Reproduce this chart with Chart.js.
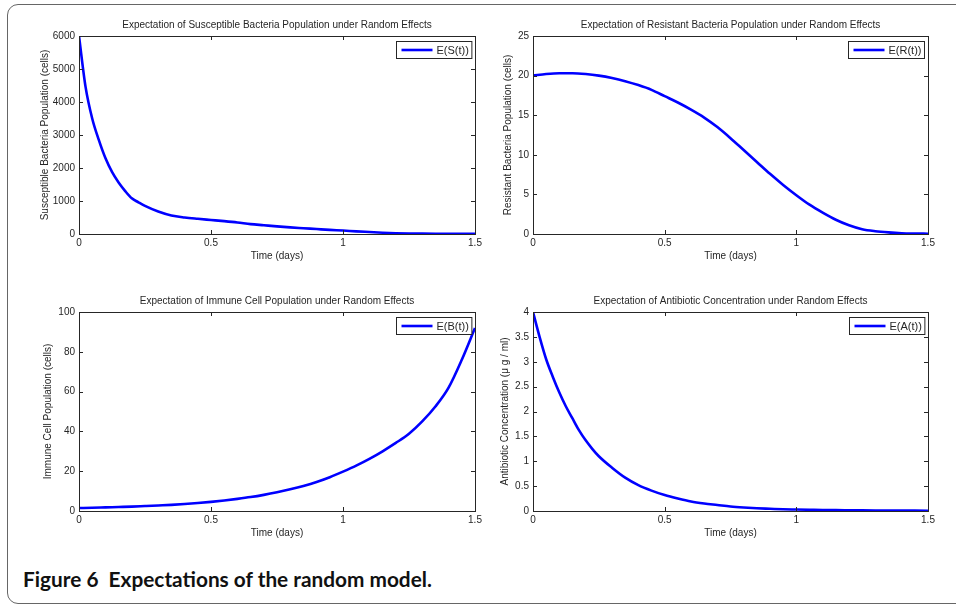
<!DOCTYPE html>
<html>
<head>
<meta charset="utf-8">
<script src="https://cdn.jsdelivr.net/npm/chart.js@4"></script>
<style>
    html, body { margin: 0; padding: 0; background: #fff; }
    body { width: 956px; height: 604px; position: relative; overflow: hidden; }
    .frame {
        position: absolute; left: 7px; top: 4px; width: 1000px; height: 600px;
        border: 1.5px solid #666; border-radius: 11px; box-sizing: border-box;
    }
    canvas { position: absolute; }
    .caption {
        position: absolute; left: 23px; top: 566px;
        font-family: Lato, "Open Sans", sans-serif; font-weight: 700; font-size: 21px;
        color: #111; white-space: pre; transform-origin: 0 0;
    }
</style>
</head>
<body>
<div class="frame"></div>
<canvas id="chartS"></canvas>
<canvas id="chartR"></canvas>
<canvas id="chartB"></canvas>
<canvas id="chartA"></canvas>
<div class="caption" id="caption">Figure 6  Expectations of the random model.</div>

<script>
// ---------------------------------------------------------------
// Данные
// ---------------------------------------------------------------

// Время (дни): мелкий шаг в начале для быстро убывающих кривых
const timeFine = [0, 0.025, 0.05, 0.075, 0.1, 0.125, 0.15, 0.175, 0.2, 0.225, 0.25,
    0.3, 0.35, 0.4, 0.45, 0.5, 0.55, 0.6, 0.65, 0.7, 0.75, 0.8, 0.85, 0.9, 0.95,
    1.0, 1.05, 1.1, 1.15, 1.2, 1.25, 1.3, 1.35, 1.4, 1.45, 1.5];
const timeCoarse = [0, 0.05, 0.1, 0.15, 0.2, 0.25, 0.3, 0.35, 0.4, 0.45, 0.5,
    0.55, 0.6, 0.65, 0.7, 0.75, 0.8, 0.85, 0.9, 0.95, 1.0, 1.05, 1.1, 1.15, 1.2,
    1.25, 1.3, 1.35, 1.4, 1.45, 1.5];

// E(S(t)) на timeFine
const susceptible = [6000, 4450, 3500, 2850, 2300, 1880, 1560, 1300, 1080, 960, 850,
    680, 560, 500, 460, 425, 390, 350, 300, 265, 230, 200, 175, 150, 125,
    105, 80, 60, 40, 25, 15, 10, 7, 5, 4, 3];
// E(R(t)) на timeCoarse
const resistant = [20.0, 20.2, 20.3, 20.3, 20.2, 20.0, 19.7, 19.3, 18.8, 18.2, 17.4,
    16.6, 15.7, 14.7, 13.5, 12.1, 10.6, 9.1, 7.6, 6.2, 4.9, 3.7, 2.7, 1.8, 1.1,
    0.6, 0.35, 0.2, 0.1, 0.06, 0.04];
// E(B(t)) на timeCoarse
const immune = [1.5, 1.6, 1.8, 2.0, 2.2, 2.5, 2.8, 3.1, 3.5, 4.0, 4.6,
    5.3, 6.1, 7.0, 8.1, 9.4, 10.9, 12.6, 14.6, 17.0, 19.8, 22.8, 26.2, 30.0, 34.2,
    38.8, 45.0, 52.5, 62.0, 76.0, 92.0];
// E(A(t)) на timeFine
const antibiotic = [4.0, 3.5, 3.05, 2.7, 2.38, 2.1, 1.86, 1.62, 1.42, 1.25, 1.1,
    0.87, 0.67, 0.52, 0.41, 0.32, 0.25, 0.19, 0.15, 0.12, 0.09, 0.07, 0.055, 0.045, 0.035,
    0.03, 0.025, 0.02, 0.018, 0.015, 0.012, 0.01, 0.009, 0.008, 0.007, 0.006];

// Подписи
const titles = [
    'Expectation of Susceptible Bacteria Population under Random Effects',
    'Expectation of Resistant Bacteria Population under Random Effects',
    'Expectation of Immune Cell Population under Random Effects',
    'Expectation of Antibiotic Concentration under Random Effects'
];
const yLabels = [
    'Susceptible Bacteria Population (cells)',
    'Resistant Bacteria Population (cells)',
    'Immune Cell Population (cells)',
    'Antibiotic Concentration (\u03bc g / ml)'
];
const legendLabels = ['E(S(t))', 'E(R(t))', 'E(B(t))', 'E(A(t))'];
const xLabel = 'Time (days)';
const xTicks = [0, 0.5, 1, 1.5];
const yMax = [6000, 25, 100, 4];
const yStep = [1000, 5, 20, 0.5];

// ---------------------------------------------------------------
// Оформление в стиле MATLAB
// ---------------------------------------------------------------

const AXIS_COLOR = '#262626';
const LINE_COLOR = '#0000ff';

Chart.defaults.font.family = '"Liberation Sans", Arial, sans-serif';
Chart.defaults.font.size = 10;
Chart.defaults.color = AXIS_COLOR;

// рамка вокруг области графика + засечки внутрь со всех четырёх сторон
const matlabBox = {
    id: 'matlabBox',
    afterDatasetsDraw(chart) {
        const { ctx, chartArea: a, scales } = chart;
        const tick = 4;
        ctx.save();
        ctx.strokeStyle = AXIS_COLOR;
        ctx.lineWidth = 1;
        ctx.beginPath();
        scales.x.ticks.forEach(t => {
            const px = Math.round(scales.x.getPixelForValue(t.value)) + 0.5;
            ctx.moveTo(px, a.bottom); ctx.lineTo(px, a.bottom - tick);
            ctx.moveTo(px, a.top); ctx.lineTo(px, a.top + tick);
        });
        scales.y.ticks.forEach(t => {
            const py = Math.round(scales.y.getPixelForValue(t.value)) + 0.5;
            ctx.moveTo(a.left, py); ctx.lineTo(a.left + tick, py);
            ctx.moveTo(a.right, py); ctx.lineTo(a.right - tick, py);
        });
        ctx.stroke();
        ctx.strokeRect(Math.round(a.left) + 0.5, Math.round(a.top) + 0.5,
            Math.round(a.right - a.left), Math.round(a.bottom - a.top));
        ctx.restore();
    }
};

// легенда в рамке в правом верхнем углу области графика
const boxedLegend = {
    id: 'boxedLegend',
    afterDraw(chart) {
        const { ctx, chartArea: a } = chart;
        const ds = chart.data.datasets[0];
        ctx.save();
        ctx.font = '11px "Liberation Sans", Arial, sans-serif';
        const textW = ctx.measureText(ds.label).width;
        const h = 17;
        const w = 5 + 31 + 4 + textW + 3;
        const x = Math.round(a.right - 4 - w) + 0.5;
        const y = Math.round(a.top + 5) + 0.5;
        ctx.fillStyle = '#fff';
        ctx.fillRect(x, y, w, h);
        ctx.strokeStyle = AXIS_COLOR;
        ctx.lineWidth = 1;
        ctx.strokeRect(x, y, w, h);
        ctx.strokeStyle = ds.borderColor;
        ctx.lineWidth = ds.borderWidth;
        ctx.beginPath();
        ctx.moveTo(x + 5, y + h / 2);
        ctx.lineTo(x + 36, y + h / 2);
        ctx.stroke();
        ctx.fillStyle = AXIS_COLOR;
        ctx.textBaseline = 'middle';
        ctx.fillText(ds.label, x + 40, y + h / 2 + 0.5);
        ctx.restore();
    }
};

// положение холстов (левый край, верх, ширина, высота) и ширина оси Y
const panelLayout = [
    { id: 'chartS', left: 39,  top: 15,  width: 446, height: 247, yWidth: 40 },
    { id: 'chartR', left: 502, top: 15,  width: 436, height: 247, yWidth: 31 },
    { id: 'chartB', left: 42,  top: 291, width: 443, height: 248, yWidth: 37 },
    { id: 'chartA', left: 499, top: 291, width: 439, height: 248, yWidth: 34 }
];

function toPoints(times, values) {
    return times.map((t, i) => ({ x: t, y: values[i] }));
}

const seriesData = [
    toPoints(timeFine, susceptible),
    toPoints(timeCoarse, resistant),
    toPoints(timeCoarse, immune),
    toPoints(timeFine, antibiotic)
];

function renderPanel(i) {
    const p = panelLayout[i];
    const canvas = document.getElementById(p.id);
    canvas.width = p.width;
    canvas.height = p.height;
    canvas.style.left = p.left + 'px';
    canvas.style.top = p.top + 'px';

    new Chart(canvas.getContext('2d'), {
        type: 'line',
        data: {
            datasets: [{
                label: legendLabels[i],
                data: seriesData[i],
                borderColor: LINE_COLOR,
                borderWidth: 2.6,
                pointRadius: 0,
                fill: false,
                cubicInterpolationMode: 'monotone'
            }]
        },
        options: {
            responsive: false,
            animation: false,
            devicePixelRatio: 1,
            layout: { padding: { top: 0, right: 10, bottom: 0, left: 0 } },
            scales: {
                x: {
                    type: 'linear',
                    min: 0,
                    max: 1.5,
                    afterBuildTicks: s => { s.ticks = xTicks.map(v => ({ value: v })); },
                    afterFit: s => { s.height = 28; },
                    grid: { display: false, drawTicks: false },
                    border: { display: false },
                    ticks: { padding: 3, maxRotation: 0, callback: v => String(v) },
                    title: { display: true, text: xLabel, padding: 0 }
                },
                y: {
                    min: 0,
                    max: yMax[i],
                    afterFit: s => { s.width = p.yWidth; },
                    grid: { display: false, drawTicks: false },
                    border: { display: false },
                    ticks: { stepSize: yStep[i], padding: 4, callback: v => String(v) },
                    title: { display: true, text: yLabels[i], padding: 0 }
                }
            },
            plugins: {
                legend: { display: false },
                tooltip: { enabled: false },
                title: {
                    display: true,
                    fullSize: false,
                    text: titles[i],
                    font: { size: 10, weight: 'normal' },
                    color: AXIS_COLOR,
                    padding: { top: 4, bottom: 5 }
                }
            }
        },
        plugins: [matlabBox, boxedLegend]
    });
}

[0, 1, 2, 3].forEach(renderPanel);

// подгоняем ширину подписи рисунка под оригинал (~409px)
const cap = document.getElementById('caption');
const capW = cap.getBoundingClientRect().width;
cap.style.transform = 'scaleX(' + (409 / capW).toFixed(3) + ')';
</script>
</body>
</html>
